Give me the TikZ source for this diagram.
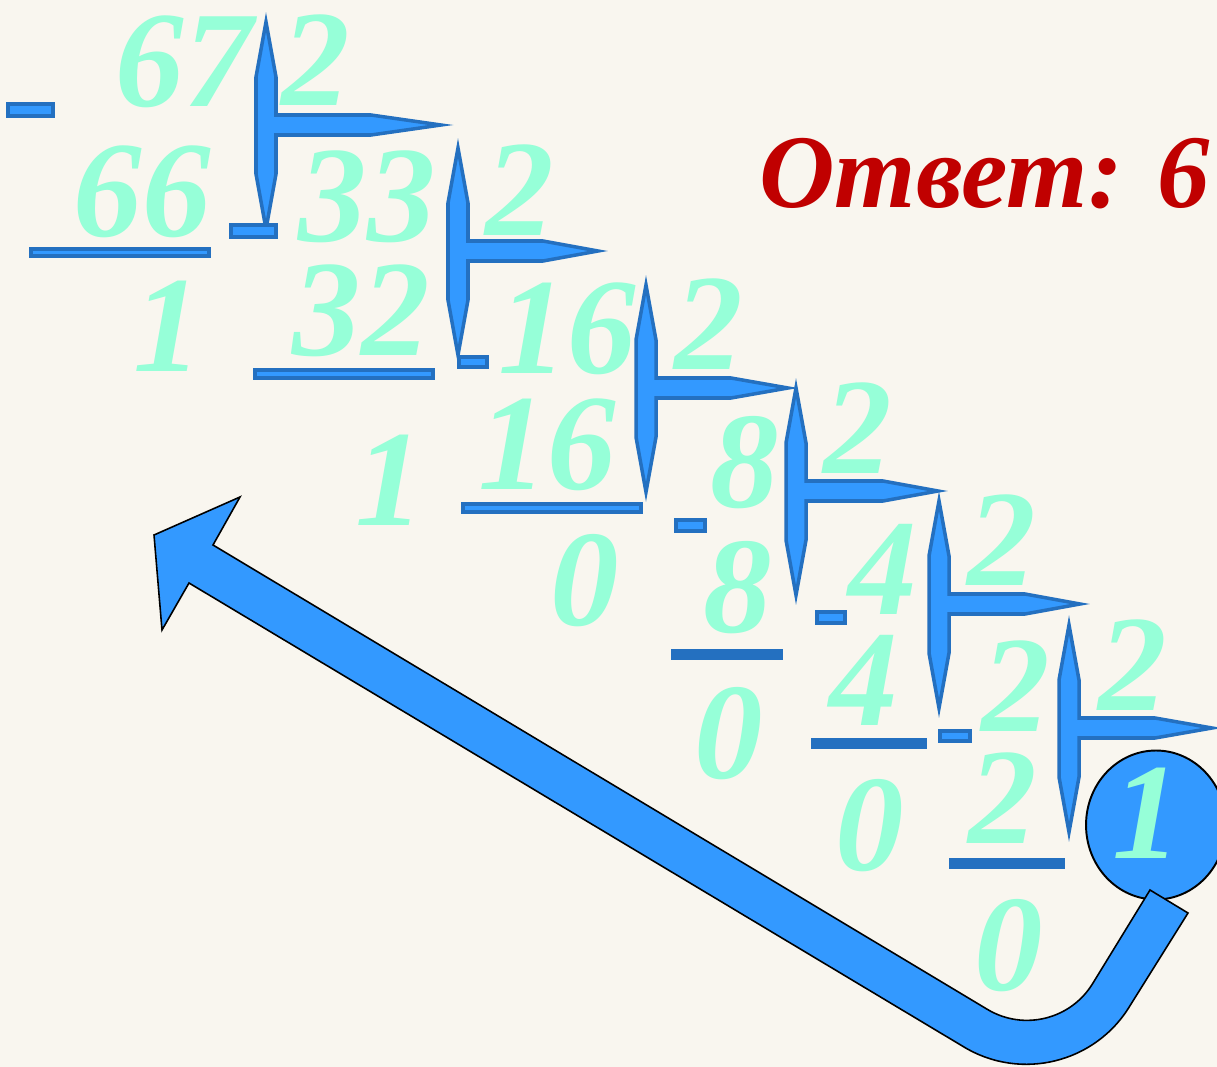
\documentclass[tikz,border=0pt]{standalone}
\usepackage{fontspec}
\setmainfont{Liberation Serif}
\usepackage{tikz}
\usetikzlibrary{shapes.geometric}

\definecolor{bgcream}{HTML}{F9F6EF}
\definecolor{digit}{HTML}{96FFD8}
\definecolor{barfill}{HTML}{3399FF}
\definecolor{barline}{HTML}{2470C0}
\definecolor{answer}{HTML}{C00000}
\newcommand\digfont{\fontsize{78}{78}\selectfont\bfseries\itshape}

\tikzset{
  dig/.style={text=digit, font=\digfont, inner sep=0pt, anchor=base},
  bar/.style={draw=barline, fill=barfill, line width=2pt, line join=miter},
  minusbox/.style={draw=barline, fill=barfill, line width=2.3pt},
  underbar/.style={draw=barline, fill=barfill, line width=2.3pt},
  underbarsolid/.style={fill=barline},
  bigarrow/.style={draw=black, fill=barfill, line width=0.9pt, line join=miter}
}

\begin{document}
\begin{tikzpicture}[x=0.02cm, y=-0.02cm]
\fill[bgcream] (0,0) rectangle (1217,1067);
\useasboundingbox (0,0) rectangle (1217,1067);

\draw[bar] (266,22) -- ++(10,55) -- ++(0,38) -- ++(95,0) -- ++(70,10) -- ++(-70,10) -- ++(-95,0) -- ++(0,39) -- ++(-10,55) -- ++(-10,-55) -- ++(0,-97) -- cycle;
\draw[bar] (458,148) -- ++(10,55) -- ++(0,38) -- ++(75,0) -- ++(55,10) -- ++(-55,10) -- ++(-75,0) -- ++(0,39) -- ++(-10,55) -- ++(-10,-55) -- ++(0,-97) -- cycle;
\draw[bar] (646,285) -- ++(10,55) -- ++(0,38) -- ++(75,0) -- ++(57,10) -- ++(-57,10) -- ++(-75,0) -- ++(0,39) -- ++(-10,55) -- ++(-10,-55) -- ++(0,-97) -- cycle;
\draw[bar] (796,388) -- ++(10,55) -- ++(0,38) -- ++(77,0) -- ++(55,10) -- ++(-55,10) -- ++(-77,0) -- ++(0,39) -- ++(-10,55) -- ++(-10,-55) -- ++(0,-97) -- cycle;
\draw[bar] (939,501) -- ++(10,55) -- ++(0,38) -- ++(76,0) -- ++(55,10) -- ++(-55,10) -- ++(-76,0) -- ++(0,39) -- ++(-10,55) -- ++(-10,-55) -- ++(0,-97) -- cycle;
\draw[bar] (1069,625) -- ++(10,55) -- ++(0,38) -- ++(76,0) -- ++(57,10) -- ++(-57,10) -- ++(-76,0) -- ++(0,39) -- ++(-10,55) -- ++(-10,-55) -- ++(0,-97) -- cycle;

\draw[minusbox] (8,104) rectangle (53,116);
\draw[minusbox] (231,225) rectangle (276,237);
\draw[minusbox] (459,357) rectangle (487,367);
\draw[minusbox] (676,520) rectangle (705,531);
\draw[minusbox] (817,612) rectangle (845,623);
\draw[minusbox] (940,731) rectangle (970,741);

\draw[underbar] (31,249) rectangle (209,256);
\draw[underbar] (255,370) rectangle (433,378);
\draw[underbar] (463,504) rectangle (641,512);
\fill[underbarsolid] (671,649) rectangle (783,660);
\fill[underbarsolid] (811,738) rectangle (927,749);
\fill[underbarsolid] (949,858) rectangle (1065,869);

\node[dig] (a1) at (184,107) {67};
\node[dig] (d1) at (316,106) {2};
\node[dig] (s1) at (142,237) {66};
\node[dig] (r1) at (168,372) {1};
\node[dig] (a2) at (367,242) {33};
\node[dig] (d2) at (520,236) {2};
\node[dig] (s2) at (361,356) {32};
\node[dig] (r2) at (390,525) {1};
\node[dig] (a3) at (567,374) {16};
\node[dig] (d3) at (709,370) {2};
\node[dig] (s3) at (547,489) {16};
\node[dig] (r3) at (585,625) {0};
\node[dig] (a4) at (745,507) {8};
\node[dig] (d4) at (858,473) {2};
\node[dig] (s4) at (738,632) {8};
\node[dig] (r4) at (729,778) {0};
\node[dig] (a5) at (883,614) {4};
\node[dig] (d5) at (1002,585) {2};
\node[dig] (s5) at (864,725) {4};
\node[dig] (r5) at (870,870) {0};
\node[dig] (a6) at (1016,731) {2};
\node[dig] (d6) at (1133,710) {2};
\node[dig] (s6) at (1003,843) {2};
\node[dig] (r6) at (1009,990) {0};

\node[ellipse, draw=black, fill=barfill, line width=1.1pt, minimum width=2.8cm, minimum height=2.98cm] (oval) at (1156,825) {};
\node[dig] (a7) at (1147,858) {1};

\draw[bigarrow] (1150,890) -- (1093,983) arc[start angle=31, end angle=121, radius=77] -- (213,545) -- (240,497) -- (154,535) -- (162,630) -- (189,583) -- (964,1047) arc[start angle=121, end angle=31, radius=121] -- (1188,913) -- cycle;

\node[text=answer, font=\fontsize{59.5}{59.5}\selectfont\bfseries\itshape, inner sep=0pt, anchor=base west] (ans) at (759,208) {Ответ: 6};
\end{tikzpicture}
\end{document}
